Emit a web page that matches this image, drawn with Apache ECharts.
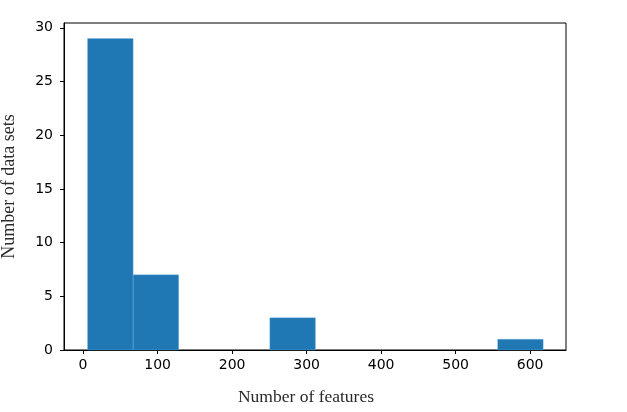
<!DOCTYPE html>
<html>
<head>
<meta charset="utf-8">
<script src="https://cdn.jsdelivr.net/npm/echarts@6/dist/echarts.min.js"></script>
<style>
html,body{margin:0;padding:0;background:#fff;}
#chart{width:627px;height:412px;}
</style>
</head>
<body>
<div id="chart"></div>
<script>
// 直方图分箱边界和计数
var binEdges = [6, 67.2, 128.3, 189.5, 250.6, 311.8, 372.9, 434.0, 495.2, 556.4, 617.5];
var binCounts = [29, 7, 0, 0, 3, 0, 0, 0, 0, 1];
var xTicks = [0, 100, 200, 300, 400, 500, 600];
var yTicks = [0, 5, 10, 15, 20, 25, 30];

var bars = [];
for (var i = 0; i < binCounts.length; i++) {
    bars.push([binEdges[i], binEdges[i + 1], binCounts[i]]);
}

var chart = echarts.init(document.getElementById('chart'));
var tickFont = {color: '#000', fontSize: 14, fontFamily: 'DejaVu Sans'};
var option = {
    animation: false,
    grid: {left: 64, right: 61, top: 23, bottom: 62, outerBoundsMode: 'none',
        show: true, borderColor: '#000', borderWidth: 1},
    xAxis: {
        type: 'value',
        min: -25.6, max: 648.1,
        name: 'Number of features',
        nameLocation: 'middle',
        nameGap: 38,
        nameTextStyle: {color: '#2a2a2a', fontSize: 17.5, fontFamily: 'Liberation Serif', padding: [0, 18, 0, 0]},
        splitLine: {show: false},
        axisLine: {show: true, onZero: false, lineStyle: {color: '#000'}},
        axisTick: {show: true, length: 4, customValues: xTicks, lineStyle: {color: '#000'}},
        axisLabel: Object.assign({customValues: xTicks, margin: 8}, tickFont)
    },
    yAxis: {
        type: 'value',
        min: 0, max: 30.45,
        name: 'Number of data sets',
        nameLocation: 'middle',
        nameGap: 46,
        nameTextStyle: {color: '#2a2a2a', fontSize: 18, fontFamily: 'Liberation Serif'},
        splitLine: {show: false},
        axisLine: {show: true, onZero: false, lineStyle: {color: '#000'}},
        axisTick: {show: true, length: 4, customValues: yTicks, lineStyle: {color: '#000'}},
        axisLabel: Object.assign({customValues: yTicks, margin: 11}, tickFont)
    },
    series: [{
        type: 'custom',
        data: bars,
        renderItem: function (params, api) {
            if (api.value(2) <= 0) return null;
            var p0 = api.coord([api.value(0), api.value(2)]);
            var p1 = api.coord([api.value(1), 0]);
            return {
                type: 'rect',
                shape: {x: p0[0], y: p0[1], width: p1[0] - p0[0], height: p1[1] - p0[1]},
                style: {fill: '#1f77b4', stroke: 'rgba(120,180,230,0.6)', lineWidth: 0.6}
            };
        },
        encode: {x: [0, 1], y: 2}
    }]
};
chart.setOption(option);
</script>
</body>
</html>
